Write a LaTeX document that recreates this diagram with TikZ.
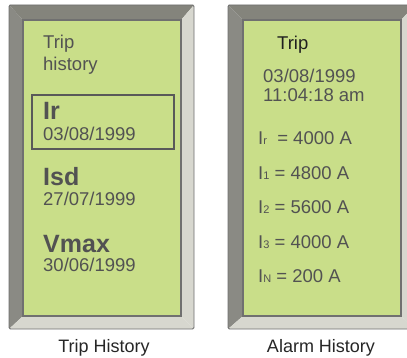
\documentclass[tikz,border=0pt]{standalone}
\usepackage{fontspec}
\setmainfont{Liberation Sans}
\definecolor{lcd}{HTML}{C9DE89}
\definecolor{bevdark}{HTML}{84847C}
\definecolor{bevleft}{HTML}{8A8A84}
\definecolor{bevlight}{HTML}{D7D7CF}
\definecolor{txt}{HTML}{525252}
\definecolor{edge}{HTML}{707070}
\tikzset{
  txtnode/.style={anchor=base west,inner sep=0pt,text=txt,font=\fontsize{18.5}{20}\selectfont},
  bignode/.style={anchor=base west,inner sep=0pt,text=txt,font=\fontsize{25}{27}\selectfont\bfseries},
  capnode/.style={anchor=base,inner sep=0pt,text=black!85,font=\fontsize{18}{20}\selectfont},
  titlenode/.style={anchor=base west,inner sep=0pt,text=black!88,font=\fontsize{18.5}{20}\selectfont},
  outerline/.style={draw=edge,line width=0.8pt},
  innerline/.style={draw=edge,line width=1.2pt},
  selbox/.style={draw=black!65,line width=2pt}
}
\newcommand{\smallsub}[1]{{\fontsize{11}{12}\selectfont #1}}
\newcommand{\bezel}[4]{%
  \fill[bevdark] (#1,5) -- (#2,5) -- (#4,20) -- (#3,20) -- cycle;
  \fill[bevleft] (#1,5) -- (#3,20) -- (#3,316) -- (#1,329) -- cycle;
  \fill[bevlight] (#2,5) -- (#2,329) -- (#4,316) -- (#4,20) -- cycle;
  \fill[bevlight] (#1,329) -- (#2,329) -- (#4,316) -- (#3,316) -- cycle;
  \draw[outerline,rounded corners=1.5pt] (#1,5) rectangle (#2,329);
  \fill[lcd] (#3,20) rectangle (#4,316);
  \draw[innerline] (#3,20) rectangle (#4,316);
}
\begin{document}
\begin{tikzpicture}[x=1pt,y=-1pt]
\useasboundingbox (0,0) rectangle (407,358);
\clip (0,0) rectangle (407,358);
\fill[white] (0,0) rectangle (407,358);
% left panel
\bezel{9}{194}{23}{181}
\node[txtnode] (ltrip) at (43,49) {Trip};
\node[txtnode] (lhist) at (43,71) {history};
\draw[selbox] (32,95) rectangle (174,149);
\node[bignode] (ir) at (43,120) {Ir};
\node[txtnode] (ird) at (43,141) {03/08/1999};
\node[bignode] (isd) at (43,186) {Isd};
\node[txtnode] (isdd) at (43,206) {27/07/1999};
\node[bignode] (vmax) at (43,252) {Vmax};
\node[txtnode] (vmaxd) at (43,272) {30/06/1999};
\node[capnode] (lcap) at (104,352) {Trip History};
% right panel
\bezel{228}{415}{243}{401}
\node[titlenode] (rtrip) at (277,50) {Trip};
\node[txtnode] (rdate) at (263,83) {03/08/1999};
\node[txtnode] (rtime) at (263,102) {11:04:18 am};
\node[txtnode] (eqr) at (258,145) {I\smallsub{r}\ \ = 4000 A};
\node[txtnode] (eq1) at (258,179.5) {I\smallsub{1} = 4800 A};
\node[txtnode] (eq2) at (258,214) {I\smallsub{2} = 5600 A};
\node[txtnode] (eq3) at (258,248) {I\smallsub{3} = 4000 A};
\node[txtnode] (eqn) at (258,283) {I\smallsub{N} = 200 A};
\node[capnode] (rcap) at (321,352) {Alarm History};
\end{tikzpicture}
\end{document}
